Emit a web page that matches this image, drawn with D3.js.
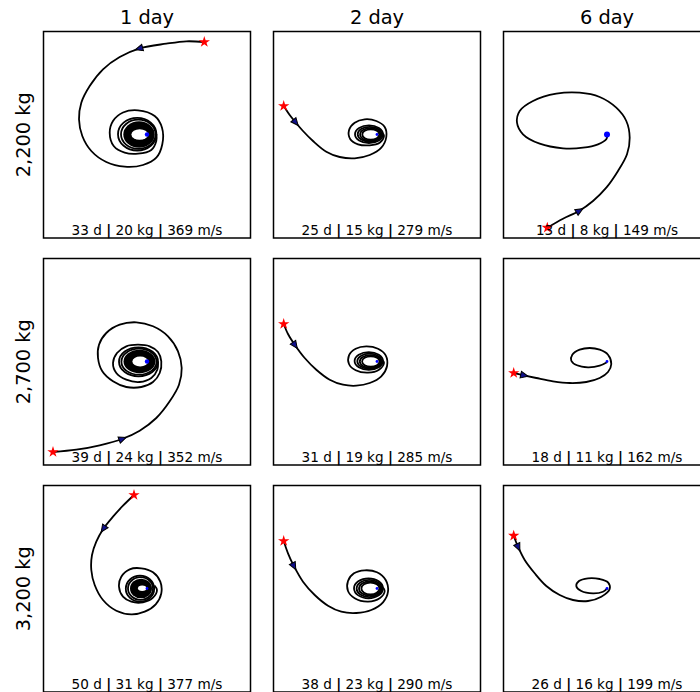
<!DOCTYPE html>
<html><head><meta charset="utf-8">
<script src="https://cdn.jsdelivr.net/npm/d3@7"></script>
<style>body{margin:0;background:#fff;overflow:hidden}</style>
</head><body>
<script>
// ---------- DATA ----------
const colLabels = ["1 day", "2 day", "6 day"];
const rowLabels = ["2,200 kg", "2,700 kg", "3,200 kg"];
const statDays = [[33, 25, 13], [39, 31, 18], [50, 38, 26]];
const statKg   = [[20, 15, 8],  [24, 19, 11], [31, 23, 16]];
const statDv   = [[369, 279, 149], [352, 285, 162], [377, 290, 199]];

// trajectory points (x, y), target at (0,0), start first
const path_r0c0 = [[57.3,92.5],[39.3,93.2],[19.3,90.8],[-7.3,86.2],[-27.3,77.5],[-44,65.2],[-57.3,48.5],[-65.7,31.8],[-68,15.2],[-64.7,-1.5],[-55.7,-16.5],[-40.7,-27.5],[-22.3,-32.2],[-4,-30.5],[9.3,-23.2],[15.3,-9.8],[15,6.8],[7.7,18.5],[-9,24.2],[-24,22],[-34,13.5],[-37.3,1.8],[-33.3,-11.5],[-22.3,-18.2],[-9,-19.2],[4.3,-15.5],[9.3,-6.5],[9.4,0.5]];
const path_r0c1 = [[-93.3,28.5],[-87.3,19.5],[-81.7,12.5],[-74,3.5],[-64,-6.5],[-50.7,-17.2],[-37.3,-22.5],[-22.3,-23.8],[-7.3,-20.5],[4.3,-13.2],[9.3,-2.5],[7.7,7.5],[-0.7,13.5],[-12.3,15.2],[-22.3,11.8],[-28,4.2],[-26.7,-4.8],[-19,-9.8],[-7.3,-10.8],[2.7,-8.2],[7,-1.5],[6,1]];
const path_r0c2 = [[-59.7,-93.2],[-44,-84.2],[-28,-76.5],[-14,-66.5],[-0.7,-53.2],[11,-36.5],[20,-19.8],[22.7,-3.2],[19.3,13.5],[9.3,26.8],[-7.3,37.5],[-27.3,41.8],[-50.7,40.8],[-74,33.5],[-87.3,23.5],[-90,11.8],[-84,0.2],[-67.3,-9.2],[-44,-13.8],[-24,-13.2],[-9,-9.8],[-0.7,-4.8],[0.3,-0.5]];
const path_r1c0 = [[-94,-90.5],[-70.7,-88.2],[-47.3,-83.8],[-25,-77.5],[-7.3,-69.2],[9.3,-56.5],[22.7,-39.8],[32,-23.2],[34.7,-6.5],[31,10.2],[21,25.2],[6,35.2],[-10.7,39.2],[-27.3,36.8],[-40.7,28.5],[-48,16.8],[-49,3.5],[-44.7,-9.8],[-34,-19.8],[-20.7,-25.5],[-5.7,-25.5],[6,-20.5],[12.7,-11.5],[14.3,0.2],[11,9.5],[2.7,15.2],[-9,16.8],[-20.7,15.2],[-30,8.5],[-34,-1.5],[-30.7,-11.5],[-20.7,-18.2],[-7.3,-20.5],[4.3,-16.5],[10.3,-8.2],[11,0]];
const path_r1c1 = [[-93.3,37.5],[-89,27.5],[-82.3,16.8],[-72.3,3.5],[-60.7,-8.2],[-47.3,-18.2],[-34,-23.2],[-20.7,-24.2],[-7.3,-21.5],[4.3,-14.8],[10,-4.8],[8.7,6.2],[1,12.8],[-10.7,15.2],[-21.3,12.8],[-28,6.2],[-28,-2.5],[-21.3,-8.8],[-9,-11.2],[2,-8.2],[7,-1.5],[6,1]];
const path_r1c2 = [[-93.3,-11.5],[-83.3,-13.8],[-70.7,-16.5],[-54,-19.8],[-37.3,-21.5],[-20.7,-20.5],[-7.3,-16.5],[1,-10.5],[4.3,-2.5],[1,6.8],[-7.3,11.8],[-17.3,13.5],[-27.3,11.8],[-34.7,6.8],[-35.7,0.8],[-30,-3.8],[-19,-5.8],[-7.3,-4.2],[0,-0.8]];
const path_r2c0 = [[-13,93.5],[-24,82.8],[-34,71.8],[-43.3,60.2],[-50.7,46.8],[-55,33.5],[-55.7,18.5],[-52.3,3.5],[-44,-11.5],[-30.7,-22.2],[-15.7,-25.8],[-2.3,-23.2],[8.7,-15.8],[14.3,-4.8],[13.3,6.8],[6,16.2],[-5.7,20.2],[-17.3,19.2],[-25.7,11.8],[-28,1.8],[-24,-8.2],[-15.7,-13.2],[-4,-13.8],[6,-9.2],[10,-1.5],[7.5,3]];
const path_r2c1 = [[-93.3,47.5],[-89,35.2],[-83.3,22.8],[-74,6.8],[-62.3,-6.5],[-49,-17.2],[-35.7,-23.2],[-20.7,-24.5],[-5.7,-21.5],[6,-13.8],[11,-3.2],[8.7,8.5],[0,16.2],[-12.3,18.2],[-23,15.2],[-29,7.5],[-29,-2.5],[-22.3,-9.8],[-9,-13.2],[2.7,-9.8],[7.7,-2.5],[6,1]];
const path_r2c2 = [[-93.3,52.8],[-89,41.8],[-82.3,28.5],[-72.3,15.2],[-60.7,2.5],[-47.3,-6.5],[-34,-11.5],[-19,-12.5],[-5.7,-8.2],[2.7,-0.5],[1,6.2],[-7.3,9.5],[-19,10.2],[-28,7.5],[-30.7,2.5],[-25.7,-2.5],[-14,-4.8],[-4,-3.2],[0.3,0.2]];

// tight final loops: [cx, cy, rx, ry]
const loops_r0c0 = [[-9.8,0.3,19.2,16.3],[-8.7,0.2,17.3,14.6]];
const loops_r0c1 = [[-8,0.3,14,8.8],[-7.3,0.2,12,7.5],[-6.7,0,10.2,6.3],[-6.2,0,8.5,5.2]];
const loops_r0c2 = [];
const loops_r1c0 = [[-8.5,-0.3,19.5,14.5],[-8,-0.2,17.6,13]];
const loops_r1c1 = [[-8.2,0.5,14.2,8.8],[-7.5,0.3,12.2,7.5],[-6.8,0,10.4,6.3],[-6.2,0,8.7,5.2]];
const loops_r1c2 = [];
const loops_r2c0 = [[-7,-0.2,14.2,13],[-6.5,0,12.5,11.3]];
const loops_r2c1 = [[-8.5,0.2,14.5,10],[-7.8,0,12.6,8.6],[-7.2,0,10.8,7.2],[-6.6,0,9,6]];
const loops_r2c2 = [];

// densely wound core: outer [cx,cy,rx,ry] and hole [cx,cy,rx,ry]
const core_r0c0 = [[-8,0,15.7,13.2],[-7.3,0,8.3,5.3]];
const core_r1c0 = [[-7.5,0,16,11.8],[-6.8,0,7.8,5]];
const core_r2c0 = [[-6,0,11,9.8],[-4.8,0.2,4.2,2.7]];

const paths = [[path_r0c0, path_r0c1, path_r0c2],[path_r1c0, path_r1c1, path_r1c2],[path_r2c0, path_r2c1, path_r2c2]];
const loops = [[loops_r0c0, loops_r0c1, loops_r0c2],[loops_r1c0, loops_r1c1, loops_r1c2],[loops_r2c0, loops_r2c1, loops_r2c2]];
const cores = [[core_r0c0, null, null],[core_r1c0, null, null],[core_r2c0, null, null]];
const arrowIndex = [[3, 2, 2],[3, 2, 1],[3, 2, 1]];

// ---------- STYLE / LAYOUT ----------
const endDotR = [[2.2, 1.4, 3],[2.2, 1.4, 1.4],[1.4, 1.4, 1.4]];
const colX = [43.5, 273.5, 503.5], rowY = [31.5, 258.5, 485.5];
const PW = 207, PH = 206.5;
const FONT = "'DejaVu Sans', sans-serif";

const svg = d3.select("body").append("svg").attr("width", 700).attr("height", 692);
const x = d3.scaleLinear().domain([-103.5, 103.5]).range([0, PW]);
const y = d3.scaleLinear().domain([-103.5, 103]).range([PH, 0]);
const line = d3.line().x(d => x(d[0])).y(d => y(d[1])).curve(d3.curveCatmullRom.alpha(0.5));

colLabels.forEach((t, c) => {
  svg.append("text").attr("x", colX[c] + PW / 2).attr("y", 24)
    .attr("text-anchor", "middle").attr("font-family", FONT).attr("font-size", 19.4).text(t);
});
rowLabels.forEach((t, r) => {
  const cy = rowY[r] + PH / 2;
  svg.append("text").attr("transform", `translate(29.5,${cy}) rotate(-90)`)
    .attr("text-anchor", "middle").attr("font-family", FONT).attr("font-size", 19.4).text(t);
});

for (let r = 0; r < 3; r++) {
  for (let c = 0; c < 3; c++) {
    const g = svg.append("g").attr("transform", `translate(${colX[c]},${rowY[r]})`);
    const cid = `clip${r}${c}`;
    g.append("clipPath").attr("id", cid).append("rect").attr("width", PW).attr("height", PH);
    const inner = g.append("g").attr("clip-path", `url(#${cid})`);
    const pts = paths[r][c];

    inner.append("path").attr("d", line(pts)).attr("fill", "none")
      .attr("stroke", "#000").attr("stroke-width", 1.8);

    inner.selectAll("ellipse.loop").data(loops[r][c]).join("ellipse").attr("class", "loop")
      .attr("cx", d => x(d[0])).attr("cy", d => y(d[1]))
      .attr("rx", d => x(d[0] + d[2]) - x(d[0])).attr("ry", d => y(d[1]) - y(d[1] + d[3]))
      .attr("fill", "none").attr("stroke", "#000").attr("stroke-width", 1.8);

    const core = cores[r][c];
    if (core) {
      inner.selectAll("ellipse.core").data(core).join("ellipse").attr("class", "core")
        .attr("cx", d => x(d[0])).attr("cy", d => y(d[1]))
        .attr("rx", d => x(d[0] + d[2]) - x(d[0])).attr("ry", d => y(d[1]) - y(d[1] + d[3]))
        .attr("fill", (d, i) => i === 0 ? "#000" : "#fff");
    }

    // arrow marker
    const ai = arrowIndex[r][c];
    const p0 = pts[ai - 1], p1 = pts[ai], p2 = pts[ai + 1];
    const ang = Math.atan2(y(p2[1]) - y(p0[1]), x(p2[0]) - x(p0[0])) * 180 / Math.PI;
    inner.append("polygon").attr("points", "4.5,0 -3,3.3 -3,-3.3")
      .attr("transform", `translate(${x(p1[0])},${y(p1[1])}) rotate(${ang})`)
      .attr("fill", "#10108a").attr("stroke", "#000").attr("stroke-width", 1);

    // end dot
    const pe = [0, 0];
    inner.append("circle").attr("cx", x(pe[0])).attr("cy", y(pe[1])).attr("r", endDotR[r][c]).attr("fill", "#0000ff");

    // start star
    inner.append("path").attr("d", d3.symbol(d3.symbolStar, 40)())
      .attr("transform", `translate(${x(pts[0][0])},${y(pts[0][1])})`).attr("fill", "#ff0000");

    // stats text
    const t = g.append("text").attr("x", PW / 2).attr("y", 203.5).attr("text-anchor", "middle")
      .attr("font-family", FONT).attr("font-size", 13.6).style("white-space", "pre");
    t.append("tspan").text(`${statDays[r][c]} d `);
    t.append("tspan").attr("font-weight", "bold").text("|");
    t.append("tspan").text(` ${statKg[r][c]} kg `);
    t.append("tspan").attr("font-weight", "bold").text("|");
    t.append("tspan").text(` ${statDv[r][c]} m/s`);

    g.append("rect").attr("width", PW).attr("height", PH).attr("fill", "none")
      .attr("stroke", "#000").attr("stroke-width", 1.5);
  }
}
</script>
</body></html>
